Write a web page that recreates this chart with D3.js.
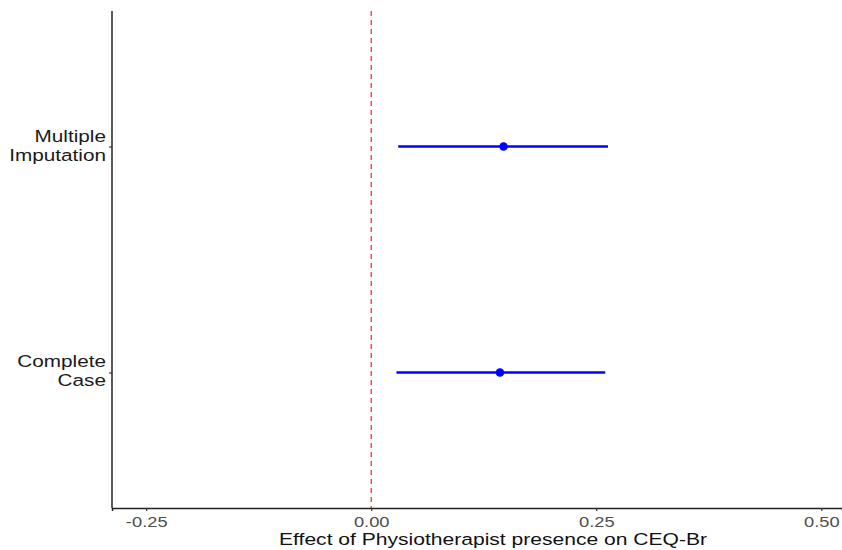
<!DOCTYPE html>
<html><head><meta charset="utf-8">
<script src="https://cdn.jsdelivr.net/npm/d3@7"></script>
<style>body{margin:0;background:#fff}svg{display:block}</style>
</head><body>
<script>
const categories = ["Complete Case", "Multiple Imputation"];
const estimates = [0.143, 0.147];
const lower = [0.028, 0.030];
const upper = [0.260, 0.263];
const xTicks = [-0.25, 0, 0.25, 0.5];
const xTitle = "Effect of Physiotherapist presence on CEQ-Br";

(function(){
const W = 842, H = 550;
const SX = 1.22;
const FONT = "Liberation Sans, Arial, sans-serif";
const svg = d3.select("body").append("svg").attr("width", W).attr("height", H);
const pL = 112, pR = 842, pT = 11, pB = 508;

const x = d3.scaleLinear().domain([-0.288, 0.523]).range([pL, pR]);
const y = d3.scalePoint().domain(categories).range([pB, pT]).padding(0.6);

// zero line
svg.append("line").attr("x1", x(0)).attr("x2", x(0)).attr("y1", pT).attr("y2", pB)
  .attr("stroke", "#ff3030").attr("stroke-width", 1.3).attr("stroke-dasharray", "5,4");

// axes
const fmt = d => d3.format(".2f")(d).replace("\u2212", "-");
const xa = svg.append("g").attr("transform", `translate(0,${pB})`)
  .call(d3.axisBottom(x).tickValues(xTicks).tickFormat(fmt).tickSizeOuter(0).tickSize(3));
xa.select(".domain").attr("stroke", "#222").attr("stroke-width", 1.5);
xa.selectAll(".tick line").attr("stroke", "#333").attr("stroke-width", 1.2);
xa.selectAll(".tick text").attr("y", 0).attr("dy", null)
  .attr("transform", `translate(0,19) scale(${SX},1)`)
  .attr("font-family", FONT).attr("font-size", 15).attr("fill", "#4d4d4d");

const ya = svg.append("g").attr("transform", `translate(${pL},0)`)
  .call(d3.axisLeft(y).tickSizeOuter(0).tickSize(3).tickFormat(""));
ya.select(".domain").attr("stroke", "#222").attr("stroke-width", 1.5).attr("d", `M0,${pT}V${pB}`);
ya.selectAll(".tick line").attr("stroke", "#333").attr("stroke-width", 1.2);

categories.forEach(c => {
  const words = c.split(" ");
  words.forEach((w, i) => {
    svg.append("text").attr("text-anchor", "end")
      .attr("transform", `translate(106,${y(c) - 5 + i * 19}) scale(${SX},1)`)
      .attr("font-family", FONT).attr("font-size", 17).attr("fill", "#1a1a1a").text(w);
  });
});

// intervals
const g = svg.append("g");
categories.forEach((c, i) => {
  g.append("line").attr("x1", x(lower[i])).attr("x2", x(upper[i])).attr("y1", y(c)).attr("y2", y(c))
    .attr("stroke", "#0000ff").attr("stroke-width", 2.6);
  g.append("circle").attr("cx", x(estimates[i])).attr("cy", y(c)).attr("r", 4.3).attr("fill", "#0000ff");
});

svg.append("text").attr("text-anchor", "middle")
  .attr("transform", `translate(493,545) scale(${SX + 0.02},1)`)
  .attr("font-family", FONT).attr("font-size", 17).attr("fill", "#111").text(xTitle);
})();
</script>
</body></html>
